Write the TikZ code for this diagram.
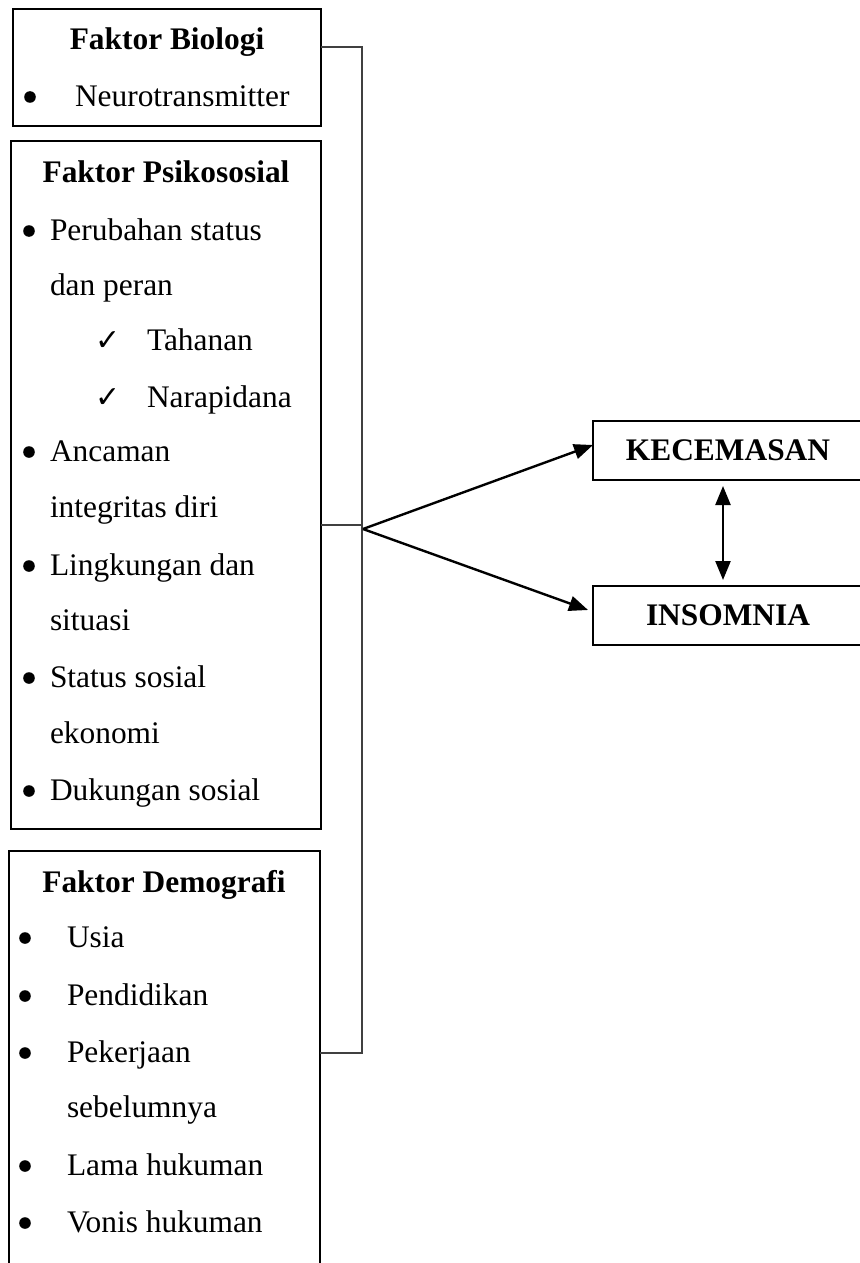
\documentclass[tikz,border=0pt]{standalone}
\usepackage{fontspec}
\setmainfont{Liberation Serif}
\newfontfamily\symfont{DejaVu Sans}
\usetikzlibrary{arrows.meta}
\begin{document}
\begin{tikzpicture}[x=0.5pt,y=-0.5pt,
  every node/.style={inner sep=0pt,outer sep=0pt,font=\fontsize{15.7}{18}\selectfont},
  box/.style={draw,line width=1pt,anchor=north west,minimum width=#1},
  ttl/.style={anchor=base,font=\fontsize{15.7}{18}\selectfont\bfseries},
  itm/.style={anchor=base west},
  bul/.style={circle,fill,minimum size=5.8pt},
  chk/.style={anchor=base,font=\symfont\fontsize{15}{17}\selectfont},
  brk/.style={draw=black!75,line width=0.65pt},
  arr/.style={line width=1.2pt,-{Triangle[length=9.5pt,width=7.5pt]}},
  darr/.style={line width=1.2pt,{Triangle[length=9.5pt,width=7.5pt]}-{Triangle[length=9.5pt,width=7.5pt]}}]
\useasboundingbox (0,0) rectangle (860,1263);
\clip (0,0) rectangle (860,1263);
% boxes
\node[box=154pt,minimum height=58.5pt] (bio) at (13,9) {};
\node[box=155pt,minimum height=344pt] (psi) at (11,141) {};
\node[box=155.5pt,minimum height=240pt] (dem) at (9,851) {};
\node[box=160pt,minimum height=29.5pt] (kec) at (593,421) {};
\node[box=160pt,minimum height=29.5pt] (ins) at (593,586) {};
% box 1 text
\node[ttl] (t1) at (167,50) {Faktor Biologi};
\node[bul] (b11) at (30,97) {};
\node[itm] (i11) at (75,106) {Neurotransmitter};
% box 2 text
\node[ttl] (t2) at (166,182) {Faktor Psikososial};
\node[bul] (b21) at (29,231) {};
\node[itm] (i21) at (50,240) {Perubahan status};
\node[itm] (i22) at (50,295) {dan peran};
\node[chk] (c21) at (108,350) {✓};
\node[itm] (i23) at (147,350) {Tahanan};
\node[chk] (c22) at (108,407) {✓};
\node[itm] (i24) at (147,407) {Narapidana};
\node[bul] (b22) at (29,452) {};
\node[itm] (i25) at (50,461) {Ancaman};
\node[itm] (i26) at (50,517) {integritas diri};
\node[bul] (b23) at (29,566) {};
\node[itm] (i27) at (50,575) {Lingkungan dan};
\node[itm] (i28) at (50,630) {situasi};
\node[bul] (b24) at (29,678) {};
\node[itm] (i29) at (50,687) {Status sosial};
\node[itm] (i210) at (50,743) {ekonomi};
\node[bul] (b25) at (29,791) {};
\node[itm] (i211) at (50,800) {Dukungan sosial};
% box 3 text
\node[ttl] (t3) at (164,892) {Faktor Demografi};
\node[bul] (b31) at (25,938) {};
\node[itm] (i31) at (67,947) {Usia};
\node[bul] (b32) at (25,996) {};
\node[itm] (i32) at (67,1005) {Pendidikan};
\node[bul] (b33) at (25,1053) {};
\node[itm] (i33) at (67,1062) {Pekerjaan};
\node[itm] (i34) at (67,1117) {sebelumnya};
\node[bul] (b34) at (25,1166) {};
\node[itm] (i35) at (67,1175) {Lama hukuman};
\node[bul] (b35) at (25,1223) {};
\node[itm] (i36) at (67,1232) {Vonis hukuman};
% right texts
\node[ttl] (kt) at (728,460) {KECEMASAN};
\node[ttl] (it) at (728,625) {INSOMNIA};
% bracket
\coordinate (e1) at (bio.east |- 0,47);
\coordinate (e2) at (psi.east |- 0,525);
\coordinate (e3) at (dem.east |- 0,1053);
\coordinate (j1) at (362,47);
\coordinate (j2) at (362,525);
\coordinate (j3) at (362,1053);
\coordinate (ap) at (363,529);
\draw[brk] (e1) -- (j1) -- (j3) -- (e3);
\draw[brk] (e2) -- (j2);
% arrows
\coordinate (kt1) at (593,445);
\coordinate (it1) at (588,610);
\draw[arr] (ap) -- (kt1);
\draw[arr] (ap) -- (it1);
\draw[darr] ([xshift=65pt,yshift=-3pt]kec.south west) -- ([xshift=65pt,yshift=3pt]ins.north west);
\end{tikzpicture}
\end{document}
